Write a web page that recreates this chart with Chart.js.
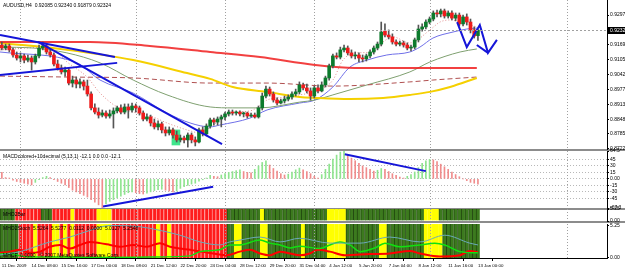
<!DOCTYPE html>
<html>
<head>
<meta charset="utf-8">
<script src="https://cdn.jsdelivr.net/npm/chart.js@4.4.1/dist/chart.umd.min.js"></script>
<style>
body { margin: 0; background: #fff; }
#wrap { position: relative; width: 625px; height: 269px; overflow: hidden; background: #fff; }
#wrap canvas { position: absolute; left: 0; z-index: 1; }
.sep { position: absolute; left: 0; width: 625px; height: 2px; background: #8c8c8c; z-index: 0; }
</style>
</head>
<body>
<div id="wrap">
  <div class="sep" style="top:149px"></div>
  <div class="sep" style="top:208px"></div>
  <div class="sep" style="top:221px"></div>
  <canvas id="main" width="625" height="153" style="top:0"></canvas>
  <canvas id="macd" width="625" height="66" style="top:146px"></canvas>
  <canvas id="bar3" width="625" height="20" style="top:205px"></canvas>
  <canvas id="stoch" width="625" height="49" style="top:220px"></canvas>
</div>
<script>
// ---- price data, AUDUSD H4, one entry per bar (index 0 = 11 Dec 2009 00:00)
const open = [
  .9168,.9155,.9164,.9147,.9125,.9112,.9121,.9103,.9112,.9095,
  .9121,.9155,.9164,.9138,.9125,.9086,.9069,.9052,.9060,.9004,
  .9017,.9000,.9009,.8991,.8957,.8897,.8879,.8866,.8875,.8862,
  .8871,.8884,.8897,.8879,.8901,.8888,.8905,.8897,.8875,.8849,
  .8858,.8832,.8815,.8828,.8802,.8789,.8802,.8780,.8759,.8767,
  .8759,.8780,.8759,.8750,.8802,.8785,.8819,.8845,.8836,.8849,
  .8858,.8871,.8879,.8875,.8879,.8871,.8875,.8862,.8866,.8858,
  .8897,.8948,.8978,.8957,.8931,.8918,.8927,.8935,.8944,.8957,
  .8966,.8996,.8983,.8970,.8948,.8983,.8970,.8996,.9026,.9078,
  .9121,.9116,.9147,.9155,.9134,.9121,.9125,.9112,.9108,.9121,
  .9138,.9155,.9172,.9228,.9211,.9203,.9181,.9172,.9177,.9168,
  .9155,.9159,.9190,.9237,.9246,.9267,.9280,.9306,.9302,.9315,
  .9293,.9306,.9284,.9297,.9259,.9289,.9267,.9233,.92085
];
const high = [
  .9181,.9172,.9172,.9155,.9138,.9134,.9129,.9125,.9121,.9129,
  .9168,.9181,.9172,.9151,.9134,.9103,.9082,.9073,.9069,.9034,
  .9030,.9022,.9017,.9017,.8966,.8914,.8897,.8888,.8884,.8888,
  .8897,.8905,.8910,.8914,.8914,.8918,.8914,.8905,.8884,.8871,
  .8866,.8849,.8841,.8836,.8815,.8815,.8810,.8797,.8780,.8776,
  .8789,.8789,.8772,.8810,.8815,.8828,.8853,.8853,.8858,.8866,
  .8879,.8888,.8888,.8884,.8884,.8879,.8879,.8875,.8875,.8905,
  .8961,.8991,.8987,.8966,.8940,.8935,.8948,.8953,.8966,.8978,
  .9009,.9004,.9000,.8983,.8991,.8996,.9009,.9034,.9086,.9129,
  .9134,.9159,.9168,.9164,.9147,.9138,.9134,.9125,.9129,.9147,
  .9164,.9181,.9267,.9259,.9233,.9216,.9190,.9185,.9185,.9177,
  .9168,.9198,.9254,.9259,.9276,.9289,.9315,.9319,.9323,.9323,
  .9315,.9315,.9306,.9306,.9297,.9302,.9280,.9246,.92340
];
const low = [
  .9147,.9147,.9138,.9116,.9103,.9095,.9091,.9095,.9060,.9086,
  .9112,.9147,.9129,.9116,.9078,.9060,.9043,.9034,.8996,.8987,
  .8983,.8983,.8974,.8948,.8888,.8871,.8853,.8858,.8853,.8853,
  .8810,.8875,.8871,.8871,.8853,.8879,.8879,.8866,.8841,.8841,
  .8819,.8806,.8802,.8789,.8776,.8780,.8767,.8750,.8750,.8746,
  .8728,.8746,.8733,.8746,.8776,.8776,.8810,.8823,.8823,.8815,
  .8845,.8862,.8866,.8866,.8862,.8858,.8853,.8858,.8853,.8853,
  .8888,.8940,.8948,.8922,.8910,.8914,.8918,.8927,.8935,.8948,
  .8957,.8974,.8961,.8931,.8940,.8961,.8966,.8987,.9017,.9069,
  .9108,.9108,.9138,.9125,.9112,.9108,.9095,.9095,.9099,.9112,
  .9129,.9147,.9164,.9203,.9194,.9172,.9164,.9164,.9159,.9147,
  .9142,.9151,.9181,.9228,.9237,.9259,.9272,.9289,.9289,.9284,
  .9284,.9276,.9272,.9250,.9250,.9254,.9220,.9198,.91879
];
const close = [
  .9155,.9164,.9147,.9125,.9112,.9121,.9103,.9112,.9095,.9121,
  .9155,.9164,.9138,.9125,.9086,.9069,.9052,.9060,.9004,.9017,
  .9000,.9009,.8991,.8957,.8897,.8879,.8866,.8875,.8862,.8871,
  .8884,.8897,.8879,.8901,.8888,.8905,.8897,.8875,.8849,.8858,
  .8832,.8815,.8828,.8802,.8789,.8802,.8780,.8759,.8767,.8759,
  .8780,.8759,.8750,.8802,.8785,.8819,.8845,.8836,.8849,.8858,
  .8871,.8879,.8875,.8879,.8871,.8875,.8862,.8866,.8858,.8897,
  .8948,.8978,.8957,.8931,.8918,.8927,.8935,.8944,.8957,.8966,
  .8996,.8983,.8970,.8948,.8983,.8970,.8996,.9026,.9078,.9121,
  .9116,.9147,.9155,.9134,.9121,.9125,.9112,.9108,.9121,.9138,
  .9155,.9172,.9224,.9211,.9203,.9181,.9172,.9177,.9168,.9155,
  .9159,.9190,.9237,.9246,.9267,.9280,.9306,.9302,.9315,.9293,
  .9306,.9284,.9297,.9259,.9289,.9267,.9233,.9207,.92324
];

// moving averages, read at sample bars
const redMaX = [-0.5, 23.7, 39.8, 56, 69.4, 84.2, 94.9, 109.7, 127.7];
const redMa = [.9181, .9181, .9164, .9138, .9116, .9082, .9069, .9069, .9069];
const yellowMaX = [-0.5, 17.5, 35.3, 49.8, 56, 62.1, 71.3, 80.1, 84.2, 93.6, 102.5, 109.7, 115.1, 120.5, 127.7];
const yellowMa = [.9177, .9147, .9103, .9047, .9022, .8987, .8966, .8944, .8940, .8935, .8940, .8953, .8966, .8987, .9026];
const brownMaX = [-0.5, 17.5, 35.3, 56, 71.3, 89, 109.7, 115.9, 127.7];
const brownMa = [.9034, .9030, .9026, .9004, .9004, .8991, .9009, .9017, .9030];
const greenMaX = [-0.5, 8.4, 17.5, 26.4, 35.3, 44.4, 56, 62.1, 69.4, 80.1, 84.2, 89, 98.2, 109.7, 115.1, 123.2, 127.7];
const greenMa = [.9159, .9155, .9134, .9091, .9017, .8953, .8901, .8897, .8897, .8922, .8931, .8953, .8996, .9052, .9095, .9138, .9151];
const blueMaX = [-0.5, 20.2, 26.4, 35.3, 44.4, 50.6, 56, 58.6, 66.7, 71.3, 80.1, 84.2, 89, 93.6, 98.2, 103.5, 109.7, 112.4, 115.9, 121.3, 125, 127.7];
const blueMa = [.9138, .9091, .9017, .8961, .8875, .8832, .8815, .8823, .8853, .8888, .8918, .8931, .8987, .9073, .9103, .9125, .9138, .9159, .9198, .9224, .9237, .9241];
const pinkMaX = [-0.5, 12.9, 17.5, 22.9, 26.4, 31, 35.3, 40.6, 44.4, 49.8, 53.3, 56.8, 60.5, 64, 67.5, 71.3, 76.6, 80.1, 85.5, 89, 91.7, 95.5, 99.8, 102.5, 105.1, 109.7, 115.1, 117.8, 120.5, 123.2, 127.7];
const pinkMa = [.9147, .9159, .9095, .9030, .8961, .8901, .8879, .8858, .8832, .8802, .8789, .8823, .8866, .8879, .8888, .8931, .8944, .8953, .8974, .9017, .9103, .9134, .9138, .9181, .9203, .9177, .9233, .9267, .9276, .9267, .9246];

// hand-drawn objects on the price chart
const trendAX = [-0.5, 30.4], trendAY = [.9211, .9116];
const trendBX = [-0.5, 31], trendBY = [.9039, .9091];
const trendCX = [9.7, 59.2], trendCY = [.9181, .8741];
const zigX = [122.4, 125, 128.5, 130.7, 133.1], zigY = [.9267, .9159, .9254, .9134, .9190];
const arrowX = [127.7, 130.7], arrowY = [.9168, .9134];
const boxX = [46.8], boxLow = [.8737], boxHigh = [.8802];

// MACD histogram
const macdHist = [
  15, 3, 2, -3, -6, -8, -10, -12, -14, -8, -2, 3, 6,
  3, -2, -6, -10, -14, -20, -26, -30, -34, -38, -42, -48, -54, -60, -67.3,
  -58, -52, -48, -44, -40, -36, -32, -30, -32, -34, -35, -33, -30, -27, -25, -24, -26, -28, -30, -28, -22, -18, -15, -12, -10, -5, -2,
  2, 8, 6, 5, 9, 12, 15, 17, 19, 21, 17, 15, 14, 22, 30, 38, 42, 32, 24, 18, 12, 9, 11, 16, 21, 25, 21, 17, 12, 6, 2, 10,
  22, 34, 46, 55, 62, 64.5, 56, 48, 42, 36, 30, 26, 22, 18, 20, 24, 22, 17, 12, 8, 4, 2, 6, 10, 16, 26, 36, 42, 45, 44, 40, 34, 28, 22, 16, 10, 5, 0, -4, -8, -10, -12.1
];
const macdLine1X = [27.2, 56.8], macdLine1Y = [-64, -18];
const macdLine2X = [92.2, 114], macdLine2Y = [57, 18];

// colour strips (state, number of bars)
const bar3Runs = [['G',4],['R',7],['G',3],['R',5],['Y',1],['R',6],['Y',4],['R',31],['G',9],['Y',1],['G',17],['Y',5],['G',21],['Y',4],['G',11]];
const stochRuns = [['G',5],['R',4],['Y',1],['R',4],['Y',2],['R',1],['Y',1],['R',1],['Y',1],['R',6],['Y',4],['R',12],['Y',1],['R',2],['Y',1],['R',15],
  ['G',2],['Y',2],['G',5],['Y',2],['G',9],['Y',1],['G',6],['Y',5],['G',9],['Y',2],['G',10],['Y',5],['G',10]];

// lines in the bottom window
const tealX = [-0.5, 4.9, 12.9, 18.3, 23.7, 29.1, 37.1, 42.5, 47.9, 53.3, 58.6, 61.3, 64, 69.4, 74.8, 80.1, 88.2, 96.3, 104.3, 112.4, 119.1, 125.8, 128];
const tealY = [0.44, 1.0, 2.6, 3.4, 4.5, 5.3, 5.1, 4.5, 3.7, 2.6, 2.1, 2.6, 2.9, 3.4, 2.6, 3.2, 2.4, 2.4, 3.4, 2.6, 3.7, 2.4, 2.1];
const limeX = [-0.5, 2.2, 4.9, 7.6, 15.6, 26.4, 39.8, 50.6, 53.3, 58.6, 61.3, 64, 69.4, 72.1, 74.8, 77.5, 80.1, 85.5, 88.2, 90.9, 93.6, 96.3, 100.3, 103, 107, 112.4, 116.4, 119.1, 123.2, 128];
const limeY = [0.6, 0.7, 0.3, 0.1, 0.1, 0.05, 0.1, 0.3, 1.0, 1.3, 2.1, 2.1, 2.9, 2.4, 2.1, 1.6, 1.9, 1.5, 2.1, 2.6, 2.1, 1.0, 1.6, 2.4, 1.8, 2.1, 2.4, 2.1, 1.0, 0.8];
const redX = [-0.5, 2.2, 4.9, 7.6, 10.3, 12.9, 15.6, 18.3, 21, 23.7, 26.4, 29.1, 31.8, 35.3, 39, 42.5, 45.2, 47.9, 50.6, 53.3, 56.8, 60.5, 64, 66.7, 69.4, 72.1, 74.8, 77.5, 80.1, 82.8, 85, 88.2, 92.2, 99, 104.3, 109.7, 112.4, 117.8, 123.2, 125.8, 128];
const redY = [0.8, 1.0, 1.3, 0.8, 1.0, 1.8, 2.1, 1.5, 2.1, 2.6, 2.4, 2.1, 1.8, 2.1, 1.8, 2.4, 1.8, 1.5, 1.3, 1.0, 0.7, 0.4, 1.0, 1.3, 0.7, 0.4, 1.0, 0.7, 0.4, 0.7, 1.3, 1.0, 0.4, 0.6, 0.7, 1.1, 0.7, 0.2, 0.4, 1.1, 0.9];

// axes
const priceTicks = [0.87220, 0.87855, 0.88485, 0.89130, 0.89770, 0.90420, 0.91050, 0.91695, 0.92970];
const macdTicks = [-67.3, -45, -30, -15, 0, 15, 30, 45, 64.5];
const macdTickLabels = ['-67.3', '-45', '-30', '-15', '0.00', '15', '30', '45', '64.5'];
const stripTicks = [0, 5.25];
const stripTickLabels = ['0.00', '5.25'];
const dateTickIdx = [0, 8, 16, 24, 32, 40, 48, 56, 64, 72, 80, 88, 96, 104, 112, 120, 128];
const dateLabels = ['11 Dec 2009', '14 Dec 08:00', '15 Dec 16:00', '17 Dec 00:00', '18 Dec 08:00', '21 Dec 12:00',
  '22 Dec 20:00', '24 Dec 04:00', '28 Dec 12:00', '29 Dec 20:00', '31 Dec 04:00', '4 Jan 12:00',
  '5 Jan 20:00', '7 Jan 04:00', '8 Jan 12:00', '11 Jan 16:00', '13 Jan 00:00'];
const weekGridIdx = [5, 36, 60, 84, 115, 152];

// ---------------------------------------------------------------
const FONT = "'Liberation Sans', Arial, sans-serif";
Chart.defaults.font.family = FONT;
Chart.defaults.font.size = 5;
Chart.defaults.color = '#000';
Chart.defaults.animation = false;
Chart.defaults.plugins.legend.display = false;
Chart.defaults.plugins.tooltip.enabled = false;

const X_MIN = -0.5, X_MAX = 162.7;
const pts = (xs, ys) => xs.map((x, i) => ({ x: x, y: ys[i] }));

function expandRuns(runs) {
  const out = [];
  runs.forEach(([s, n]) => { for (let k = 0; k < n; k++) out.push(s); });
  return out;
}

function xAxis(show) {
  const ax = { type: 'linear', min: X_MIN, max: X_MAX, offset: false, display: show,
    grid: { display: false }, border: { display: false } };
  if (show) {
    ax.afterBuildTicks = s => { s.ticks = dateTickIdx.map(v => ({ value: v })); };
    ax.afterFit = s => { s.height = 11; s.paddingLeft = 0; s.paddingRight = 0; };
    ax.ticks = { autoSkip: false, maxRotation: 0, minRotation: 0, align: 'start', padding: 2,
      font: { size: 4.4 }, callback: (v, i) => dateLabels[i] };
    ax.grid = { display: true, drawOnChartArea: false, drawTicks: true, tickLength: 3, tickColor: '#000' };
    ax.border = { display: true, color: '#000' };
  }
  return ax;
}

function yAxis(min, max, ticks, labelFn, gridColor) {
  return {
    type: 'linear', position: 'right', min: min, max: max, beginAtZero: false,
    afterBuildTicks: s => { s.ticks = ticks.map(v => ({ value: v })); },
    afterFit: s => { s.width = 18; s.paddingTop = 0; s.paddingBottom = 0; },
    ticks: { autoSkip: false, padding: 1, callback: labelFn },
    grid: { drawOnChartArea: !!gridColor, color: gridColor || '#000', tickLength: 2, tickColor: '#000' },
    border: { display: true, color: '#000', dash: [1, 2] }
  };
}

function weekGrid(chart) {
  const { ctx, chartArea: a, scales: { x } } = chart;
  ctx.save();
  ctx.strokeStyle = '#a0a0a0';
  ctx.lineWidth = 1;
  ctx.setLineDash([1, 2]);
  weekGridIdx.forEach(v => {
    const px = Math.round(x.getPixelForValue(v)) + 0.5;
    ctx.beginPath(); ctx.moveTo(px, a.top); ctx.lineTo(px, a.bottom); ctx.stroke();
  });
  ctx.restore();
}

function decor(cfg) {
  return {
    id: 'decor',
    beforeDatasetsDraw(chart) { if (!cfg.gridOnTop) weekGrid(chart); },
    afterDatasetsDraw(chart) {
      if (cfg.gridOnTop) weekGrid(chart);
      if (cfg.bid) {
        const { ctx, chartArea: a } = chart;
        const y = Math.round(chart.scales.y.getPixelForValue(cfg.bid)) + 0.5;
        ctx.save();
        ctx.strokeStyle = '#a0a0a0'; ctx.setLineDash([2, 2]);
        ctx.beginPath(); ctx.moveTo(a.left, y); ctx.lineTo(a.right, y); ctx.stroke();
        ctx.restore();
      }
    },
    afterDraw(chart) {
      const { ctx, chartArea: a } = chart;
      ctx.save();
      ctx.textBaseline = 'top';
      (cfg.texts || []).forEach(t => {
        ctx.font = (t.size || 5) + 'px ' + FONT;
        ctx.fillStyle = t.color || '#000';
        ctx.fillText(t.text, t.x, t.y);
      });
      if (cfg.bid) {
        const y = Math.round(chart.scales.y.getPixelForValue(cfg.bid));
        ctx.font = '5px ' + FONT;
        ctx.fillStyle = '#000';
        ctx.fillRect(a.right + 1, y - 3, 24, 7);
        ctx.fillStyle = '#fff';
        ctx.textBaseline = 'middle';
        ctx.fillText(cfg.bid.toFixed(5), a.right + 3, y + 0.5);
      }
      ctx.restore();
    }
  };
}

// ---------------- main price window
const idx = open.map((_, i) => i);
const bull = '#0c7a2c', bear = '#ee1b1b';
const maLine = (xs, ys, color, width, dash) => ({
  type: 'line', data: pts(xs, ys), borderColor: color, borderWidth: width, borderDash: dash || [],
  pointRadius: 0, tension: 0.4, cubicInterpolationMode: 'monotone', fill: false, order: 5
});
const drawnLine = (xs, ys) => ({
  type: 'line', data: pts(xs, ys), borderColor: '#1515d8', borderWidth: 2, pointRadius: 0,
  tension: 0, fill: false, order: 0
});

new Chart(document.getElementById('main'), {
  type: 'bar',
  data: {
    datasets: [
      { data: boxX.map((x, i) => ({ x: x, y: [boxLow[i], boxHigh[i]] })), backgroundColor: '#3fe68c',
        barThickness: 8, grouped: false, order: 9 },
      maLine(redMaX, redMa, 'rgba(240,30,30,0.85)', 2),
      maLine(yellowMaX, yellowMa, '#f5d000', 2),
      maLine(brownMaX, brownMa, '#b05050', 1, [5, 3]),
      maLine(greenMaX, greenMa, '#7fa070', 1),
      maLine(blueMaX, blueMa, '#6f6fe8', 1),
      maLine(pinkMaX, pinkMa, '#e08a8a', 1, [1, 2]),
      { data: idx.map(i => ({ x: i, y: [low[i], high[i]] })), backgroundColor: '#555',
        barThickness: 1, grouped: false, order: 3 },
      { data: idx.map(i => ({ x: i, y: [open[i], close[i]] })),
        backgroundColor: idx.map(i => close[i] >= open[i] ? bull : bear),
        borderColor: '#222', borderWidth: 0, barThickness: 3, minBarLength: 1, grouped: false, order: 2 },
      drawnLine(trendAX, trendAY),
      drawnLine(trendBX, trendBY),
      drawnLine(trendCX, trendCY),
      drawnLine(zigX, zigY),
      drawnLine(arrowX, arrowY)
    ]
  },
  options: {
    responsive: false,
    layout: { padding: { top: 0, bottom: 4, left: 0, right: 0 }, autoPadding: false },
    scales: {
      x: xAxis(false),
      y: yAxis(0.87198, 0.9362, priceTicks, v => v.toFixed(5), null)
    }
  },
  plugins: [decor({
    bid: close[close.length - 1],
    texts: [{ text: 'AUDUSD,H4  ' + [open, high, low, close].map(a => a[a.length - 1].toFixed(5)).join(' '), x: 3, y: 3 }]
  })]
});

// ---------------- MACD window
new Chart(document.getElementById('macd'), {
  type: 'bar',
  data: {
    datasets: [
      { data: macdHist.map((v, i) => ({ x: i, y: v })),
        backgroundColor: macdHist.map((v, i) => (i > 0 && v >= macdHist[i - 1]) ? '#8fe48f' : '#f08c8c'),
        barThickness: 1, grouped: false, order: 2 },
      drawnLine(macdLine1X, macdLine1Y),
      drawnLine(macdLine2X, macdLine2Y)
    ]
  },
  options: {
    responsive: false,
    layout: { padding: { top: 5, bottom: 4, left: 0, right: 0 }, autoPadding: false },
    scales: {
      x: xAxis(false),
      y: yAxis(-67.3, 64.5, macdTicks, (v, i) => macdTickLabels[i],
        c => (c.index === 0 || c.index === macdTicks.length - 1) ? 'rgba(0,0,0,0)' : '#b8b8b8')
    }
  },
  plugins: [decor({
    texts: [{ text: 'MACDcolored+10decimal (5,13,1) -12.1 0.0 0.0 -12.1', x: 3, y: 8 }]
  })]
});

// ---------------- colour strips
const stripFill = { G: '#3c7a1e', R: '#ff1c1c', Y: '#ffff00' };
const stripEdge = { G: '#234a10', R: '#ff9a9a', Y: '#ffff00' };
function stripSet(states, base, top) {
  return {
    data: states.map((s, i) => ({ x: i, y: [base, top] })),
    backgroundColor: states.map(s => stripFill[s]),
    borderColor: states.map(s => stripEdge[s]),
    borderWidth: { left: 1, right: 0, top: 0, bottom: 0 }, borderSkipped: false,
    barPercentage: 1, categoryPercentage: 1, grouped: false, order: 5
  };
}

new Chart(document.getElementById('bar3'), {
  type: 'bar',
  data: { datasets: [stripSet(expandRuns(bar3Runs), 0, 5.25)] },
  options: {
    responsive: false,
    layout: { padding: { top: 4, bottom: 4, left: 0, right: 0 }, autoPadding: false },
    scales: { x: xAxis(false), y: yAxis(0, 5.25, stripTicks, (v, i) => stripTickLabels[i], null) }
  },
  plugins: [decor({ gridOnTop: true, texts: [{ text: 'MHO2Bar', x: 3, y: 7 }] })]
});

const thinLine = (xs, ys, color, width) => ({
  type: 'line', data: pts(xs, ys), borderColor: color, borderWidth: width, pointRadius: 0,
  tension: 0.3, cubicInterpolationMode: 'monotone', fill: false, order: 1
});

new Chart(document.getElementById('stoch'), {
  type: 'bar',
  data: {
    datasets: [
      stripSet(expandRuns(stochRuns), -0.05, 5.55),
      thinLine(tealX, tealY, '#6aaab8', 1),
      thinLine(limeX, limeY, '#10e010', 1.5),
      thinLine(redX, redY, '#ff0000', 2)
    ]
  },
  options: {
    responsive: false,
    layout: { padding: { top: 4, bottom: 0, left: 0, right: 0 }, autoPadding: false },
    scales: { x: xAxis(true), y: yAxis(-0.05, 5.55, stripTicks, (v, i) => stripTickLabels[i], null) }
  },
  plugins: [decor({
    gridOnTop: true,
    texts: [
      { text: 'MHO2Stoch  5.5264  5.5277  0.0112  0.0000  5.0127  5.2548', x: 3, y: 6 },
      { text: 'MHCF  0.0000   \u00a9 2007 MetaQuotes Software Corp.', x: 3, y: 33 }
    ]
  })]
});
</script>
</body>
</html>
